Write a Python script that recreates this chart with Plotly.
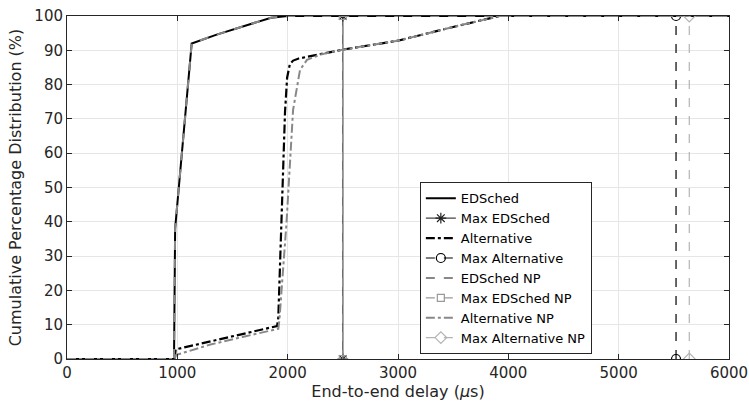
import plotly.graph_objects as go

# ---- data ----
edsched_x = [0, 970, 980, 1130, 1350, 1600, 1850, 2000, 6000]
edsched_y = [0, 0, 38, 92, 94.5, 97, 99.5, 100, 100]

edsched_np_x = [0, 970, 980, 1130, 1350, 1600, 1850, 2000, 6000]
edsched_np_y = [0, 0, 38, 92, 94.5, 97, 99.5, 100, 100]

alt_x = [0, 975, 985, 1300, 1600, 1904, 1915, 1945, 1976, 1995, 2020, 2050, 2100, 2500, 3000, 3500, 3920, 6000]
alt_y = [0, 0, 2.8, 5.2, 7.3, 9.6, 12, 40, 72, 82, 86, 87, 87.6, 90.2, 92.8, 96.8, 100, 100]

alt_np_x = [0, 975, 990, 1300, 1600, 1915, 1925, 1990, 2049, 2085, 2112, 2175, 2300, 2500, 3000, 3500, 3920, 6000]
alt_np_y = [0, 0, 1.2, 4.2, 6.5, 8.8, 11.4, 40, 72.6, 80, 84.3, 87.2, 88.8, 90.2, 92.8, 96.8, 100, 100]

max_edsched = 2500
max_alt = 5520
max_edsched_np = 2500
max_alt_np = 5640
max_y = [0, 100]

x_ticks = [0, 1000, 2000, 3000, 4000, 5000, 6000]
y_ticks = list(range(0, 101, 10))

fig = go.Figure()

fig.add_trace(go.Scatter(x=edsched_x, y=edsched_y, mode="lines", name="EDSched",
                         line=dict(color="black", width=2)))
fig.add_trace(go.Scatter(x=[max_edsched] * 2, y=max_y, mode="lines+markers", name="Max EDSched",
                         line=dict(color="#444444", width=1.2),
                         marker=dict(symbol="asterisk-open", size=9, color="#222222",
                                     line=dict(width=1.2, color="#222222"))))
fig.add_trace(go.Scatter(x=alt_x, y=alt_y, mode="lines", name="Alternative",
                         line=dict(color="black", width=2.2, dash="dashdot")))
fig.add_trace(go.Scatter(x=[max_alt] * 2, y=max_y, mode="lines+markers", name="Max Alternative",
                         line=dict(color="black", width=1.2, dash="dash"),
                         marker=dict(symbol="circle-open", size=9, color="black",
                                     line=dict(width=1.2, color="black"))))
fig.add_trace(go.Scatter(x=edsched_np_x, y=edsched_np_y, mode="lines", name="EDSched NP",
                         line=dict(color="#888888", width=2, dash="dash")))
fig.add_trace(go.Scatter(x=[max_edsched_np] * 2, y=max_y, mode="lines+markers", name="Max EDSched NP",
                         line=dict(color="#999999", width=1.2, dash="dash"),
                         marker=dict(symbol="square-open", size=7, color="#999999",
                                     line=dict(width=1.2, color="#999999"))))
fig.add_trace(go.Scatter(x=alt_np_x, y=alt_np_y, mode="lines", name="Alternative NP",
                         line=dict(color="#888888", width=2, dash="dashdot")))
fig.add_trace(go.Scatter(x=[max_alt_np] * 2, y=max_y, mode="lines+markers", name="Max Alternative NP",
                         line=dict(color="#b4b4b4", width=1.2, dash="dash"),
                         marker=dict(symbol="diamond-open", size=9, color="#b4b4b4",
                                     line=dict(width=1.2, color="#b4b4b4"))))

axis_common = dict(showline=True, linecolor="#262626", linewidth=1, mirror="ticks",
                   ticks="inside", ticklen=5, tickcolor="#262626", automargin=False,
                   ticklabeloverflow="allow",
                   showgrid=True, gridcolor="#e6e6e6", gridwidth=1, zeroline=False,
                   tickfont=dict(size=15, color="#262626"))

fig.update_layout(
    width=749, height=405,
    margin=dict(l=67, r=20, t=16, b=46),
    paper_bgcolor="white", plot_bgcolor="white",
    font=dict(family="DejaVu Sans", color="#262626"),
    hovermode=False,
    xaxis=dict(range=[0, 6000], tickvals=x_ticks,
               title=dict(text="End-to-end delay (<i>μ</i>s)", font=dict(size=16), standoff=4),
               **axis_common),
    yaxis=dict(range=[0, 100], tickvals=y_ticks,
               title=dict(text="Cumulative Percentage Distribution (%)", font=dict(size=16), standoff=8),
               **axis_common),
    legend=dict(x=0.533, y=0.515, xanchor="left", yanchor="top",
                bgcolor="white", bordercolor="#262626", borderwidth=1,
                font=dict(size=13, color="black"), tracegroupgap=0,
                itemwidth=30),
    showlegend=True,
)

# remove the default page margin so the figure fills the window exactly
fig.write_html("out.html",
               config={"displayModeBar": False, "staticPlot": True},
               post_script="document.body.style.margin='0';document.body.style.overflow='hidden';")
